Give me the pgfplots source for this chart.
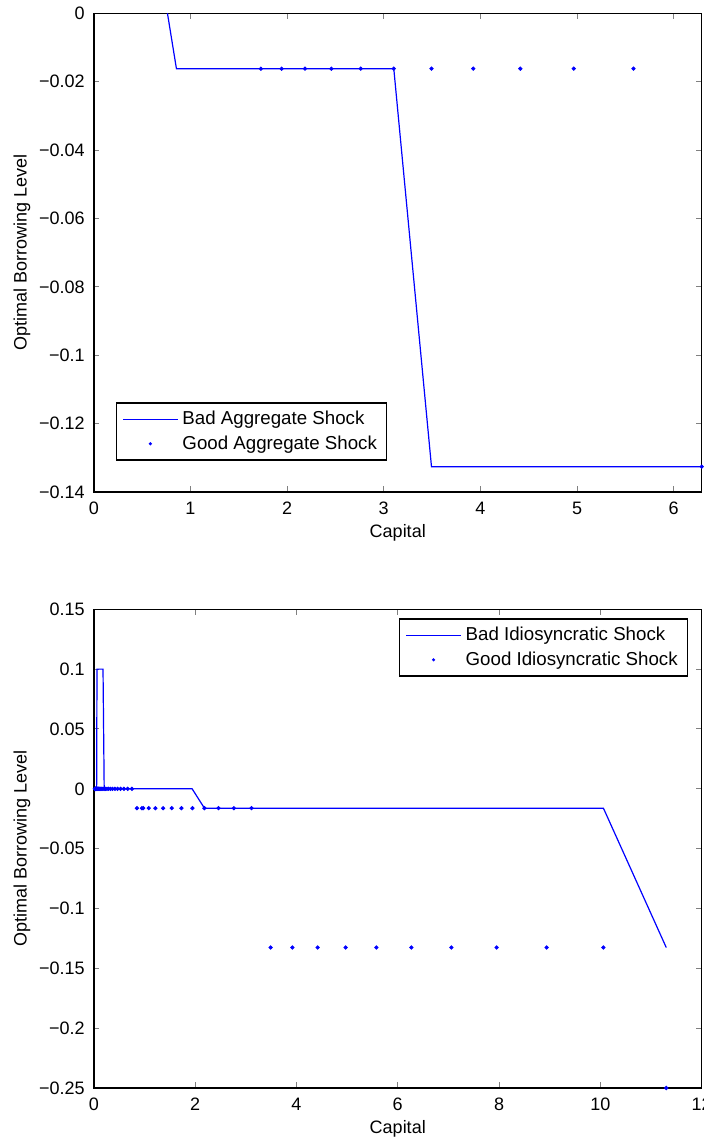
\documentclass[border=0pt]{standalone}
\usepackage{fontspec}
\setmainfont{Liberation Sans}
\usepackage{pgfplots}
\pgfplotsset{compat=1.18}
\newcommand\plotfont{\fontsize{9}{10.8}\selectfont}
\newcommand\legfont{\fontsize{9.35}{11}\selectfont}
\definecolor{mblue}{rgb}{0,0,1}

\pgfplotsset{
  borrowing/.style={
    scale only axis,
    width=303.95pt, height=239.35pt,
    anchor=south west,
    axis line style={line width=0.7pt},
    tick align=inside,
    tick pos=both,
    major tick length=2.8pt,
    major tick style={line width=0.5pt},
    tick label style={font=\plotfont},
    xticklabel style={yshift=-1.5pt},
    yticklabel style={xshift=-1pt},
    label style={font=\plotfont},
    xlabel={Capital},
    ylabel={Optimal Borrowing Level},
    xlabel style={at={(axis description cs:0.5,-0.0522)}, anchor=north},
    ylabel style={at={(axis description cs:-0.1181,0.5)}, anchor=center},
    legend style={font=\plotfont, cells={anchor=west}, line width=0.6pt},
  },
  % legend samples are drawn as small filled shapes in the series colour
  badline/.style={color=mblue, line width=0.6pt, no markers,
    legend image code/.code={%
      \color{mblue}%
      \fill[fill=mblue, draw=none] (0pt,-0.32pt) rectangle (27.5pt,0.32pt);}},
  gooddots/.style={color=mblue, only marks, mark=*, mark size=0.85pt,
    legend image code/.code={%
      \color{mblue}%
      \path (0pt,0pt) (27.5pt,0pt);
      \fill[fill=mblue, draw=none] (13.75pt,0pt) circle[radius=0.85pt];}},
}

\begin{document}
\begin{tikzpicture}
\useasboundingbox (0,0) rectangle (352pt,570pt);

% Aggregate shocks
\begin{axis}[borrowing,
  at={(46.9pt,324pt)},
  xmin=0, xmax=6.29, ymin=-0.14, ymax=0,
  xtick={0,1,2,3,4,5,6}, xticklabels={0,1,2,3,4,5,6},
  ytick={-0.14,-0.12,-0.1,-0.08,-0.06,-0.04,-0.02,0},
  yticklabels={−0.14,−0.12,−0.1,−0.08,−0.06,−0.04,−0.02,0},
  legend style={at={(0.036,0.0654)}, anchor=south west},
]
\addplot[badline] coordinates {
  (0.762,0) (0.855,-0.0162) (3.104,-0.0162) (3.494,-0.1326) (6.29,-0.1326)
};
\addlegendentry{\legfont Bad Aggregate Shock}
\addplot[gooddots] coordinates {
  (1.729,-0.0162) (1.943,-0.0162) (2.185,-0.0162) (2.458,-0.0162)
  (2.762,-0.0162) (3.104,-0.0162) (3.494,-0.0162) (3.926,-0.0162)
  (4.413,-0.0162) (4.966,-0.0162) (5.584,-0.0162) (6.29,-0.1326)
};
\addlegendentry{\legfont Good Aggregate Shock}
\end{axis}

% Idiosyncratic shocks
\begin{axis}[borrowing,
  at={(46.9pt,26pt)},
  xmin=0, xmax=12, ymin=-0.25, ymax=0.15,
  xtick={0,2,4,6,8,10,12}, xticklabels={0,2,4,6,8,10,12},
  ytick={-0.25,-0.2,-0.15,-0.1,-0.05,0,0.05,0.1,0.15},
  yticklabels={−0.25,−0.2,−0.15,−0.1,−0.05,0,0.05,0.1,0.15},
  legend style={at={(0.978,0.981)}, anchor=north east},
]
\addplot[badline] coordinates {
  (0.022,0) (0.056,0) (0.063,0.1) (0.182,0.1) (0.205,0) (1.941,0)
  (2.184,-0.0162) (10.06,-0.0162) (11.3,-0.1326)
};
\addlegendentry{\legfont Bad Idiosyncratic Shock}
\addplot[gooddots] coordinates {
  (0.022,0) (0.025,0) (0.028,0) (0.031,0) (0.035,0) (0.039,0) (0.044,0)
  (0.050,0) (0.056,0) (0.063,0) (0.071,0) (0.080,0) (0.090,0) (0.101,0)
  (0.113,0) (0.128,0) (0.144,0) (0.162,0) (0.182,0) (0.205,0) (0.231,0)
  (0.260,0) (0.292,0) (0.329,0) (0.370,0) (0.417,0) (0.469,0) (0.528,0)
  (0.595,0) (0.669,0) (0.753,0)
  (0.852,-0.0162) (0.950,-0.0162) (0.975,-0.0162) (1.084,-0.0162)
  (1.216,-0.0162) (1.368,-0.0162) (1.539,-0.0162) (1.730,-0.0162)
  (1.947,-0.0162) (2.184,-0.0162) (2.461,-0.0162) (2.764,-0.0162)
  (3.113,-0.0162)
  (3.49,-0.1326) (3.92,-0.1326) (4.42,-0.1326) (4.97,-0.1326)
  (5.58,-0.1326) (6.27,-0.1326) (7.06,-0.1326) (7.95,-0.1326)
  (8.94,-0.1326) (10.06,-0.1326)
  (11.3,-0.25)
};
\addlegendentry{\legfont Good Idiosyncratic Shock}
\end{axis}
\end{tikzpicture}
\end{document}
